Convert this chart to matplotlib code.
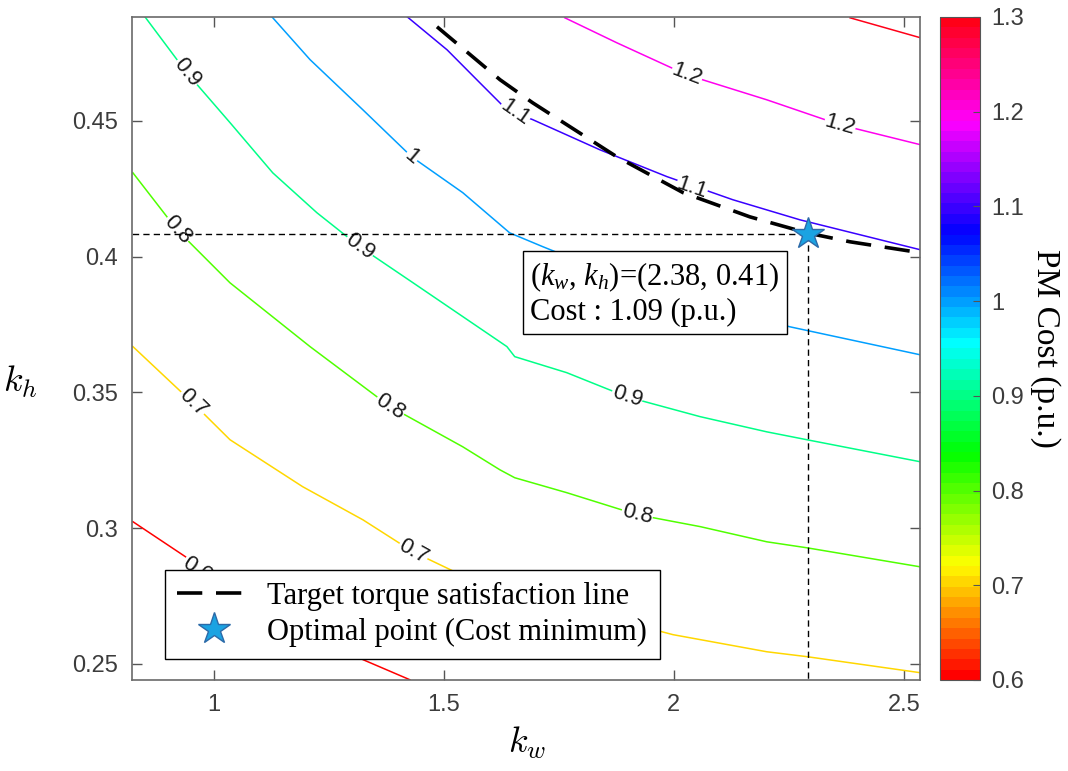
import numpy as np
import matplotlib.pyplot as plt
from matplotlib.colors import Normalize
from matplotlib.cm import ScalarMappable

# contour lines of PM cost, (kw, kh) points
levels = [0.6, 0.7, 0.8, 0.9, 1.0, 1.1, 1.2, 1.3]
kw_06 = [0.824, 0.948, 1.122, 1.324, 1.426]
kh_06 = [0.3024, 0.2884, 0.2700, 0.2516, 0.2442]
kw_07 = [0.824, 0.954, 1.035, 1.193, 1.324, 1.433, 1.528, 1.752, 1.998, 2.202, 2.289, 2.535]
kh_07 = [0.3669, 0.3462, 0.3326, 0.3153, 0.3031, 0.2913, 0.2836, 0.2718, 0.2608, 0.2545, 0.2527, 0.2468]
kw_08 = [0.824, 0.920, 1.035, 1.209, 1.383, 1.541, 1.622, 1.654, 1.767, 1.920, 2.057, 2.202, 2.289, 2.535]
kh_08 = [0.4309, 0.4099, 0.3904, 0.3669, 0.3448, 0.3300, 0.3215, 0.3186, 0.3131, 0.3050, 0.3006, 0.2950, 0.2928, 0.2858]
kw_09 = [0.850, 0.941, 1.035, 1.128, 1.224, 1.317, 1.433, 1.637, 1.654, 1.767, 1.898, 2.057, 2.202, 2.289, 2.535]
kh_09 = [0.4884, 0.4678, 0.4494, 0.4309, 0.4162, 0.4037, 0.3904, 0.3669, 0.3632, 0.3573, 0.3484, 0.3411, 0.3355, 0.3326, 0.3245]
kw_10 = [1.126, 1.209, 1.324, 1.430, 1.541, 1.643, 1.715, 1.948, 2.252, 2.535]
kh_10 = [0.4884, 0.4726, 0.4541, 0.4368, 0.4236, 0.4088, 0.4037, 0.3878, 0.3742, 0.3639]
kw_11 = [1.420, 1.507, 1.578, 1.637, 1.693, 1.839, 1.985, 2.128, 2.274, 2.535]
kh_11 = [0.4884, 0.4762, 0.4641, 0.4541, 0.4505, 0.4394, 0.4295, 0.4210, 0.4136, 0.4026]
kw_12 = [1.763, 1.876, 2.028, 2.202, 2.361, 2.535]
kh_12 = [0.4880, 0.4788, 0.4670, 0.4578, 0.4486, 0.4413]
kw_13 = [2.383, 2.535]
kh_13 = [0.4880, 0.4807]

# target torque satisfaction line
kw_target = [1.485, 1.622, 1.693, 1.876, 2.020, 2.165, 2.289, 2.383, 2.535]
kh_target = [0.4847, 0.4652, 0.4567, 0.4368, 0.4236, 0.4147, 0.4088, 0.4055, 0.4015]

# optimal point as drawn
kw_opt = 2.291
kh_opt = 0.4082

# inline contour labels: text, kw, kh, angle
label_txt = ['0.9', '0.9', '0.9', '0.8', '0.8', '0.8', '0.7', '0.7', '0.6',
             '1', '1.1', '1.1', '1.2', '1.2']
label_kw = [0.941, 1.317, 1.898, 0.920, 1.383, 1.920, 0.954, 1.433, 0.963,
            1.430, 1.654, 2.039, 2.028, 2.361]
label_kh = [0.4678, 0.4037, 0.3484, 0.4099, 0.3448, 0.3050, 0.3462, 0.2913, 0.2847,
            0.4368, 0.4530, 0.4254, 0.4670, 0.4486]
label_rot = [-51, -36, -18, -48, -33, -14, -44, -29, -33, -40, -35, -19, -21, -16]

lines_kw = [kw_06, kw_07, kw_08, kw_09, kw_10, kw_11, kw_12, kw_13]
lines_kh = [kh_06, kh_07, kh_08, kh_09, kh_10, kh_11, kh_12, kh_13]

plt.rcParams['mathtext.fontset'] = 'custom'
plt.rcParams['mathtext.rm'] = 'Liberation Serif'
plt.rcParams['mathtext.it'] = 'Liberation Serif:italic'

cmap = plt.get_cmap('hsv', 64)
norm = Normalize(vmin=0.6, vmax=1.3)
tick_col = '#3c3c3c'

fig = plt.figure(figsize=(10.68, 7.71), dpi=100)
ax = fig.add_axes([132/1068, 1-680/771, 788/1068, 663/771])

for lev, xs, ys in zip(levels, lines_kw, lines_kh):
    ax.plot(xs, ys, color=cmap(norm(lev)), lw=1.1, zorder=2)

for t, x, y, r in zip(label_txt, label_kw, label_kh, label_rot):
    ax.text(x, y, t, rotation=r, ha='center', va='center', fontsize=16,
            family='Liberation Sans', color='#1a1a1a', zorder=3,
            rotation_mode='anchor',
            bbox=dict(boxstyle='square,pad=0.02', fc='white', ec='none'))

ax.plot([0.8, kw_opt], [kh_opt, kh_opt], color='black', lw=1.0,
        dashes=(4.5, 3), zorder=4)
ax.plot([kw_opt, kw_opt], [0.2, kh_opt], color='black', lw=1.0,
        dashes=(4.5, 3), zorder=4)

ax.plot(kw_target, kh_target, color='black', lw=2.6, dashes=(7, 3.8),
        zorder=5, label='Target torque satisfaction line')
ax.plot([kw_opt], [kh_opt], ls='none', marker='*', markersize=24,
        markerfacecolor='#1BA3E2', markeredgecolor='#2C6AA8', mew=1.0,
        zorder=6, label='Optimal point (Cost minimum)')

ax.text(1.688, 0.3985, '($k_w$, $k_h$)=(2.38, 0.41)\nCost : 1.09 (p.u.)',
        family='Liberation Serif', fontsize=22, ha='left', va='top',
        linespacing=1.15, zorder=7,
        bbox=dict(boxstyle='square,pad=0.25', fc='white', ec='black', lw=1.0))

ax.set_xlim(0.822, 2.535)
ax.set_ylim(0.2441, 0.4883)
ax.set_xticks([1, 1.5, 2, 2.5])
ax.set_xticklabels(['1', '1.5', '2', '2.5'])
ax.set_yticks([0.25, 0.3, 0.35, 0.4, 0.45])
ax.set_yticklabels(['0.25', '0.3', '0.35', '0.4', '0.45'])
ax.tick_params(direction='in', length=7, width=1.0, color='#555555',
               labelsize=17, labelcolor=tick_col, top=True, right=True, pad=10)
for lab in ax.get_xticklabels() + ax.get_yticklabels():
    lab.set_family('Liberation Sans')
for sp in ax.spines.values():
    sp.set_color('#6a6a6a')
    sp.set_linewidth(1.2)

ax.set_xlabel('$k_w$', fontsize=26, math_fontfamily='cm', va='center')
ax.xaxis.set_label_coords(0.501, -0.095)
ax.set_ylabel('$k_h$', fontsize=26, math_fontfamily='cm', rotation=0,
              ha='center', va='center')
ax.yaxis.set_label_coords(-0.142, 0.45)

leg = ax.legend(loc='lower left', bbox_to_anchor=(0.042, 0.032),
                borderaxespad=0, frameon=True, fancybox=False, framealpha=1,
                prop={'family': 'Liberation Serif', 'size': 22},
                handlelength=2.4, handletextpad=0.55, labelspacing=0.22,
                borderpad=0.4)
leg.get_frame().set_edgecolor('black')
leg.get_frame().set_linewidth(1.0)
leg.set_zorder(10)

cax = fig.add_axes([940/1068, 1-680/771, 40/1068, 663/771])
sm = ScalarMappable(norm=norm, cmap=cmap)
cb = fig.colorbar(sm, cax=cax)
cb.set_ticks([0.6, 0.7, 0.8, 0.9, 1.0, 1.1, 1.2, 1.3])
cb.set_ticklabels(['0.6', '0.7', '0.8', '0.9', '1', '1.1', '1.2', '1.3'])
cax.tick_params(direction='in', length=5, color='#555555', labelsize=17,
                labelcolor=tick_col, pad=8)
for lab in cax.get_yticklabels():
    lab.set_family('Liberation Sans')
cb.outline.set_edgecolor('#555555')
cb.set_label('PM Cost (p.u.)', rotation=270, family='Liberation Serif',
             fontsize=24, va='center', ha='center')
cax.yaxis.set_label_coords(2.63, 0.5)

fig.savefig('out.png', dpi=100)
